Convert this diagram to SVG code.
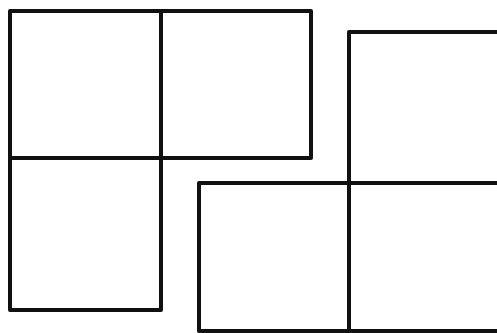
<svg xmlns="http://www.w3.org/2000/svg" width="497" height="333" viewBox="0 0 497 333">
<style>.sq{fill:#fff;stroke:#111;stroke-width:4;stroke-linejoin:round}</style>
<rect width="497" height="333" fill="#fff"/>
<g id="left-shape">
<rect id="l-tl" class="sq" x="10" y="11" width="151" height="147"/>
<rect id="l-tr" class="sq" x="161" y="11" width="150" height="147"/>
<rect id="l-bl" class="sq" x="10" y="158" width="151" height="152"/>
</g>
<g id="right-shape">
<rect id="r-tr" class="sq" x="349" y="32" width="152" height="151"/>
<rect id="r-bl" class="sq" x="199" y="183" width="150" height="148"/>
<rect id="r-br" class="sq" x="349" y="183" width="152" height="148"/>
</g>
</svg>
